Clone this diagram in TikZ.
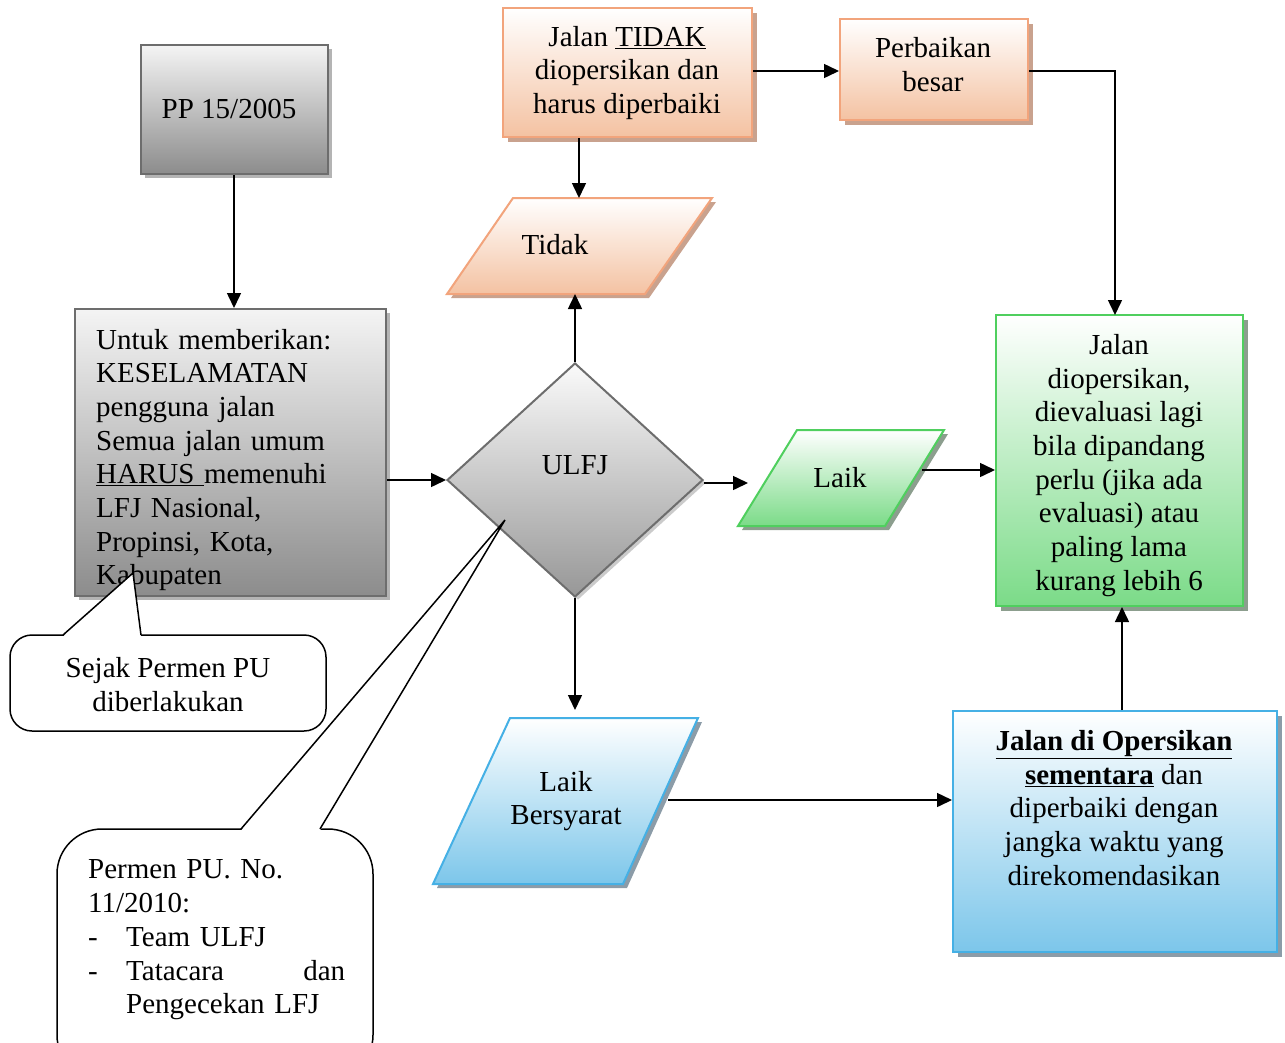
\documentclass[tikz,border=0pt]{standalone}
\usepackage{fontspec}
\setmainfont{Liberation Serif}
\usetikzlibrary{arrows.meta,shadows,shapes.geometric}
\definecolor{grayBd}{HTML}{6D6D6D}
\definecolor{grayTop}{HTML}{F4F4F4}
\definecolor{grayBot}{HTML}{8C8C8C}
\definecolor{graySh}{HTML}{B4B4B4}
\definecolor{dmTop}{HTML}{FAFAFA}
\definecolor{dmBot}{HTML}{979797}
\definecolor{orBd}{HTML}{F2A47C}
\definecolor{orBot}{HTML}{F4C2A2}
\definecolor{orSh}{HTML}{C9A28E}
\definecolor{grBd}{HTML}{4FCF5E}
\definecolor{grBot}{HTML}{7BDB88}
\definecolor{grSh}{HTML}{8C9E8E}
\definecolor{blBd}{HTML}{45B0E5}
\definecolor{blBot}{HTML}{7CC6EA}
\definecolor{blSh}{HTML}{8C9CA8}
\begin{document}
\begin{tikzpicture}[x=1pt,y=-1pt,
  font=\fontsize{29}{33.7}\selectfont,
  arr/.style={line width=1.5pt,-{Triangle[length=15pt,width=14pt]}},
  txt/.style={inner sep=0pt,align=center},
  boxbase/.style={line width=2pt,inner sep=0pt},
  graybox/.style={boxbase,draw=grayBd,top color=grayTop,bottom color=grayBot,
    drop shadow={shadow xshift=4pt,shadow yshift=-4pt,fill=graySh,opacity=1}},
  orbox/.style={boxbase,draw=orBd,top color=white,bottom color=orBot,
    drop shadow={shadow xshift=5pt,shadow yshift=-5pt,fill=orSh,opacity=1}},
  grbox/.style={boxbase,draw=grBd,top color=white,bottom color=grBot,
    drop shadow={shadow xshift=5pt,shadow yshift=-5pt,fill=grSh,opacity=1}},
  blbox/.style={boxbase,draw=blBd,top color=white,bottom color=blBot,
    drop shadow={shadow xshift=5pt,shadow yshift=-5pt,fill=blSh,opacity=1}},
  callout/.style={draw=black,line width=1.5pt,fill=white}
]
\useasboundingbox (0,0) rectangle (1285,1042);
\clip (0,0) rectangle (1285,1042);

% ---------- rectangles ----------
\node[graybox,minimum width=187,minimum height=129] (pp) at (234,109.5) {};
\node[graybox,minimum width=311,minimum height=287] (untuk) at (230.5,452.5) {};
\node[orbox,minimum width=249,minimum height=129] (jt) at (627.5,72.5) {};
\node[orbox,minimum width=188,minimum height=101] (pb) at (934,69.5) {};
\node[grbox,minimum width=247,minimum height=291] (gr) at (1119.5,460.5) {};
\node[blbox,minimum width=324,minimum height=241] (bl) at (1115,831.5) {};

% ---------- diamond ----------
\node[diamond,draw=grayBd,line width=2pt,top color=dmTop,bottom color=dmBot,
  minimum width=256,minimum height=234,inner sep=0pt,
  drop shadow={shadow xshift=3pt,shadow yshift=-3pt,fill=graySh!70,opacity=1}] (ulfj) at (575,480) {};

% ---------- parallelograms ----------
\fill[orSh] (517,202) -- (716,202) -- (649,298) -- (451,298) -- cycle;
\path[draw=orBd,line width=2pt,top color=white,bottom color=orBot]
  (513,198) -- (712,198) -- (645,294) -- (447,294) -- cycle;
\fill[grSh] (801,434) -- (948,434) -- (889,530) -- (742,530) -- cycle;
\path[draw=grBd,line width=2pt,top color=white,bottom color=grBot]
  (797,430) -- (944,430) -- (885,526) -- (738,526) -- cycle;
\fill[blSh] (514,722) -- (702,722) -- (627,888) -- (437,888) -- cycle;
\path[draw=blBd,line width=2pt,top color=white,bottom color=blBot]
  (510,718) -- (698,718) -- (623,884) -- (433,884) -- cycle;

\coordinate (tidakB) at (575,294);
\coordinate (tidakT) at (579,198);
\coordinate (laikL) at (748,483);
\coordinate (laikR) at (922,470);
\coordinate (lbT) at (575,710);
\coordinate (lbR) at (668,800);
\coordinate (grTop) at (1115,315);
\coordinate (vcol) at (1122,0);

% ---------- texts ----------
\node[txt] (ppT) at (229,109) {PP 15/2005};
\node[txt,anchor=west,align=left,text width=285] (untukT) at (96,460)
  {Untuk memberikan:\\KESELAMATAN\\pengguna jalan\\Semua jalan umum\\\underline{HARUS\ }memenuhi\\LFJ Nasional,\\Propinsi, Kota,\\Kabupaten};
\node[txt] (jtT) at (627,73) {Jalan \underline{TIDAK}\\diopersikan dan\\harus diperbaiki};
\node[txt] (pbT) at (933,64.5) {Perbaikan\\besar};
\node[txt] (tidakT2) at (555,245) {Tidak};
\node[txt] (ulfjT) at (575,465) {ULFJ};
\node[txt] (laikT) at (840,478) {Laik};
\node[txt] (grT) at (1119,465.5) {Jalan\\diopersikan,\\dievaluasi lagi\\bila dipandang\\perlu (jika ada\\evaluasi) atau\\paling lama\\kurang lebih 6};
\node[txt] (lbT2) at (566,801) {Laik\\Bersyarat};
\node[txt] (blT) at (1114,808) {\underline{\textbf{Jalan di Opersikan}}\\\underline{\textbf{sementara}} dan\\diperbaiki dengan\\jangka waktu yang\\direkomendasikan};

% ---------- connectors ----------
\draw[arr] (pp.south) -- (pp.south |- untuk.north);
\draw[arr] (untuk.east |- ulfj.west) -- (ulfj.west);
\draw[arr] (ulfj.north) -- (tidakB);
\draw[arr] (jt.south -| tidakT) -- (tidakT);
\draw[arr] (jt.east |- 0,71) -- (pb.west |- 0,71);
\draw[arr] (pb.east |- 0,71) -| (grTop);
\draw[arr] (ulfj.east |- laikL) -- (laikL);
\draw[arr] (laikR) -- (laikR -| gr.west);
\draw[arr] (ulfj.south) -- (lbT);
\draw[arr] (lbR) -- (lbR -| bl.west);
\draw[arr] (bl.north -| vcol) -- (gr.south -| vcol);

% ---------- callout 1 ----------
\draw[callout,rounded corners=22] (10,635) rectangle (326,731);
\fill[white] (63,636.5) -- (133,573) -- (141,636.5) -- cycle;
\draw[line width=1.5pt,line join=miter] (63,635) -- (133,573) -- (141,635);
\node[txt] (sejakT) at (168,684.5) {Sejak Permen PU\\diberlakukan};

% ---------- callout 2 ----------
\draw[callout,rounded corners=45] (57,829) rectangle (373,1080);
\fill[white] (241,830.5) -- (505,520) -- (320,830.5) -- cycle;
\draw[line width=1.5pt] (241,829) -- (505,520) -- (320,829);
\node[txt,anchor=west,align=left,text width=270] (permenT) at (88,940)
  {Permen PU. No.\\11/2010:\\\makebox[38pt][l]{-}Team ULFJ\\\makebox[38pt][l]{-}\makebox[219pt][s]{Tatacara\hfill dan}\\\hspace*{38pt}Pengecekan LFJ};
\end{tikzpicture}
\end{document}
